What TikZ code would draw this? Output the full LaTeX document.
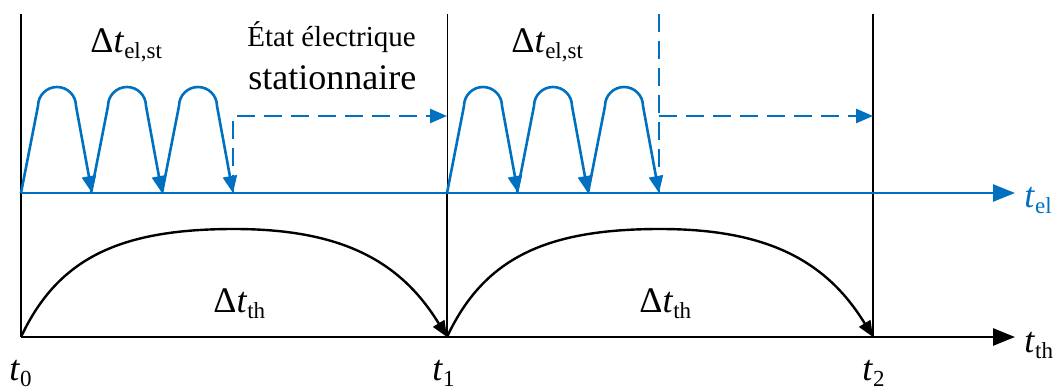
\documentclass[tikz,border=0pt]{standalone}
\usepackage{fontspec}
\setmainfont{Liberation Serif}
\usepackage{xcolor}
\usepackage{tikz}
\usetikzlibrary{arrows.meta}

\definecolor{elblue}{RGB}{0,112,192}
\newcommand\lowsub[1]{\raisebox{-3pt}{\fontsize{11.5}{12}\selectfont #1}}

\begin{document}
\begin{tikzpicture}[
  x=0.5pt, y=-0.5pt,
  >={Triangle[length=8.5pt,width=7pt]},
  every node/.style={font=\fontsize{18}{20}\selectfont, inner sep=0pt},
  bound/.style={line width=1.3pt},
  axis/.style={line width=1.3pt, -{Triangle[length=11pt,width=8.5pt]}},
  hump/.style={elblue, line width=1.3pt, ->},
  eldash/.style={elblue, line width=1.3pt, dash pattern=on 9pt off 4.5pt},
  heat/.style={line width=1.2pt, -{Triangle[length=8pt,width=6.5pt]}}
]
\useasboundingbox (0,0) rectangle (1060,390);

\coordinate (t0) at (21,337);
\coordinate (t1) at (447,337);
\coordinate (t2) at (873,337);
\coordinate (el0) at (21,193);
\coordinate (el1) at (447,193);

\draw[bound] (21,14) -- (t0);
\draw[line width=0.5pt] (447,14) -- (el1);
\draw[bound] (el1) -- (t1);
\draw[bound] (873,14) -- (t2);

\draw[axis] (t0) -- (1015,337) coordinate (thend);
\draw[axis, elblue] (el0) -- (1015,193) coordinate (elend);

\foreach \p in {0,426}{
  \foreach \c in {57,127,198}{
    \draw[hump] (\p+\c-36,193) -- (\p+\c-19,106)
      arc[start angle=180, end angle=360, radius=19] -- (\p+\c+35,193);
  }
}

\draw[eldash, ->] (233,193) -- (233,116) -- (el1 |- 0,116);
\draw[eldash] (659,14) -- (659,193);
\draw[eldash, ->] (659,116) -- (873,116);

\draw[heat] (t0) .. controls (58,258) and (120,229) .. (234,229)
  .. controls (340,229) and (400,260) .. (t1);
\draw[heat] (t1) .. controls (484,258) and (546,229) .. (660,229)
  .. controls (766,229) and (826,260) .. (t2);

\node[anchor=base west] (dtel1) at (90,53) {Δ\textit{t}\lowsub{el,st}};
\node[anchor=base west] (dtel2) at (511,53) {Δ\textit{t}\lowsub{el,st}};
\node[anchor=base west, font=\fontsize{14.5}{16}\selectfont] (etat) at (247,47) {État électrique};
\node[anchor=base west] (stat) at (248,90) {stationnaire};
\node[anchor=base west] (dth1) at (213,312) {Δ\textit{t}\lowsub{th}};
\node[anchor=base west] (dth2) at (639,312) {Δ\textit{t}\lowsub{th}};

\node[anchor=base west] (lt0) at (9,380) {\textit{t}\lowsub{0}};
\node[anchor=base west] (lt1) at (432,380) {\textit{t}\lowsub{1}};
\node[anchor=base west] (lt2) at (862,380) {\textit{t}\lowsub{2}};
\node[anchor=base west, elblue] (lel) at (1024,207) {\textit{t}\lowsub{el}};
\node[anchor=base west] (lth) at (1024,352) {\textit{t}\lowsub{th}};
\end{tikzpicture}
\end{document}
